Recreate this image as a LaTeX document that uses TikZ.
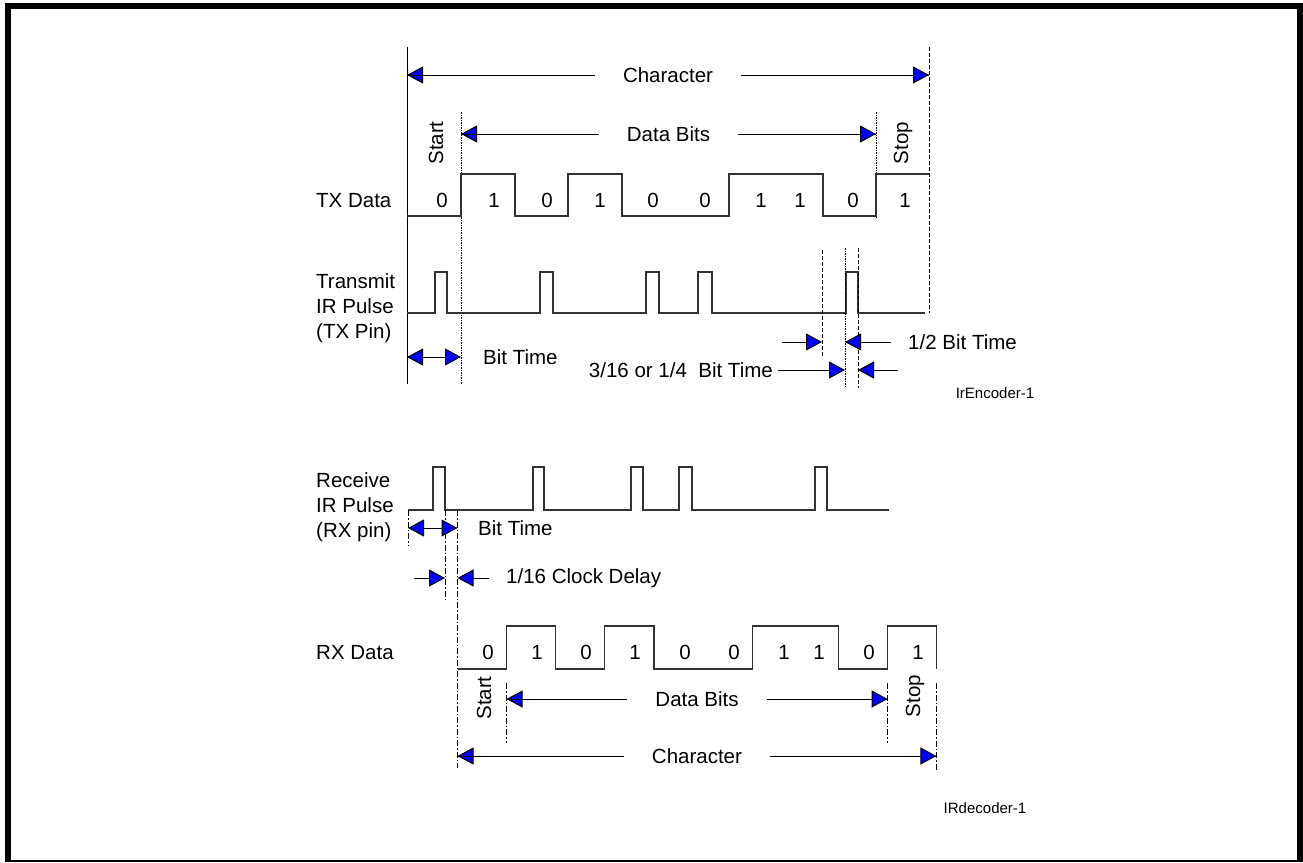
\documentclass[tikz,border=0pt]{standalone}
\usepackage{fontspec}
\setmainfont{Liberation Sans}
\usetikzlibrary{arrows.meta}

\begin{document}
\begin{tikzpicture}[x=1pt,y=-1pt,
  wave/.style={line width=1.3pt,draw=black!80},
  tip/.tip={Triangle[length=16pt,width=17pt,fill=blue]},
  dim/.style={line width=1pt,-tip},
  dimboth/.style={line width=1pt,tip-tip},
  dotline/.style={line width=1pt,dash pattern=on 1.5pt off 1pt},
  dashline/.style={line width=1pt,dash pattern=on 4pt off 2pt},
  dashdot/.style={line width=1pt,dash pattern=on 6pt off 2pt on 1.5pt off 2pt},
  txt/.style={font=\fontsize{20.5}{25}\selectfont,inner sep=0pt},
  gaplabel/.style={txt,fill=white,inner xsep=28pt,inner ysep=3pt},
  tag/.style={font=\fontsize{15}{18}\selectfont,inner sep=0pt}]

 \useasboundingbox (0,0) rectangle (1303,862);
 % frame
 \fill (5,3) rectangle (1303,9);
 \fill (5,3) rectangle (11,862);
 \fill (1297,3) rectangle (1303,862);
 \fill (5,859.5) rectangle (1303,861.5);

 % ---- encoder ----
 \coordinate (t0) at (407,47);   \coordinate (t0b) at (407,384);
 \coordinate (tS) at (461,112);  \coordinate (tSb) at (461,384);
 \coordinate (tD) at (876,112);  \coordinate (tDb) at (876,218);
 \coordinate (tE) at (929,47);   \coordinate (tEb) at (929,313);
 \coordinate (chL) at (407,75);  \coordinate (chR) at (929,75);
 \coordinate (dbL) at (461,134); \coordinate (dbR) at (876,134);

 \draw[line width=1pt] (t0) -- (t0b);
 \draw[dotline] (tS) -- (tSb);
 \draw[dotline] (tD) -- (tDb);
 \draw[dashline] (tE) -- (tEb);

 \draw[dim] (chR) -- (chL);
 \draw[dim] (chL) -- node[gaplabel] (chT) {Character} (chR);
 \draw[dim] (dbR) -- (dbL);
 \draw[dim] (dbL) -- node[gaplabel] (dbT) {Data Bits} (dbR);

 \node[txt,rotate=90] (start) at (436,143) {Start};
 \node[txt,rotate=90] (stop) at (903,143) {Stop};

 \node[txt,anchor=west] (txdata) at (316,201) {TX Data};
 \draw[wave] (407,216) -- (461,216) -- (461,174) -- (515,174) -- (515,216)
   -- (568,216) -- (568,174) -- (622,174) -- (622,216) -- (729,216)
   -- (729,174) -- (823,174) -- (823,216) -- (876,216) -- (876,174) -- (929,174);
 \foreach \x/\b [count=\i] in {442/0,494/1,547/0,600/1,653/0,705/0,761/1,800/1,853/0,905/1}
   \node[txt] (tx\i) at (\x,200) {\b};

 \node[txt,anchor=west,align=left] (txpulse) at (316,308) {Transmit\\IR Pulse\\(TX Pin)};
 \draw[wave] (407,313) -- (435,313) -- (435,272) -- (447,272) -- (447,313)
   -- (540,313) -- (540,272) -- (553,272) -- (553,313)
   -- (646,313) -- (646,272) -- (659,272) -- (659,313)
   -- (698,313) -- (698,272) -- (712,272) -- (712,313)
   -- (846,313) -- (846,272) -- (858,272) -- (858,313) -- (925,313);

 \coordinate (p1) at (822,250); \coordinate (p1b) at (822,356);
 \coordinate (p2) at (845,248); \coordinate (p2b) at (845,388);
 \coordinate (p3) at (858,248); \coordinate (p3b) at (858,388);
 \draw[dashline] (p1) -- (p1b);
 \draw[dotline] (p2) -- (p2b);
 \draw[dashline] (p3) -- (p3b);

 \coordinate (btL) at (407,357); \coordinate (btR) at (461,357);
 \draw[dimboth] (btL) -- (btR);
 \node[txt,anchor=west] (bittime) at (483,357) {Bit Time};

 \coordinate (hA) at (782,342); \coordinate (hB) at (822,342);
 \coordinate (hC) at (891,342); \coordinate (hD) at (845,342);
 \draw[dim] (hA) -- (hB);
 \draw[dim] (hC) -- (hD);
 \node[txt,anchor=west] (half) at (908,342) {1/2 Bit Time};

 \node[txt,anchor=east] (frac) at (773,370) {3/16 or 1/4\ \ Bit Time};
 \coordinate (qB) at (845,370);
 \coordinate (qC) at (898,370); \coordinate (qD) at (858,370);
 \draw[dim] ([xshift=5pt]frac.east) -- (qB);
 \draw[dim] (qC) -- (qD);

 \node[tag] (enc) at (995,393) {IrEncoder-1};

 % ---- decoder ----
 \node[txt,anchor=west,align=left] (rxpulse) at (316,507) {Receive\\IR Pulse\\(RX pin)};
 \draw[wave] (408,510) -- (433,510) -- (433,467) -- (445,467) -- (445,510)
   -- (533,510) -- (533,467) -- (544,467) -- (544,510)
   -- (631,510) -- (631,467) -- (643,467) -- (643,510)
   -- (679,510) -- (679,467) -- (692,467) -- (692,510)
   -- (815,510) -- (815,467) -- (827,467) -- (827,510) -- (889,510);

 \coordinate (r0) at (408,510);   \coordinate (r0b) at (408,545);
 \coordinate (r1) at (445,510);   \coordinate (r1b) at (445,600);
 \coordinate (r2) at (457.5,510); \coordinate (r2b) at (457.5,768);
 \draw[dashdot] (r0) -- (r0b);
 \draw[dashdot] (r1) -- (r1b);
 \draw[dashdot] (r2) -- (r2b);

 \coordinate (rbL) at (408,528); \coordinate (rbR) at (457.5,528);
 \draw[dimboth] (rbL) -- (rbR);
 \node[txt,anchor=west] (rxbit) at (478,528) {Bit Time};

 \coordinate (cA) at (414,578); \coordinate (cB) at (445,578);
 \coordinate (cC) at (489,578); \coordinate (cD) at (457.5,578);
 \draw[dim] (cA) -- (cB);
 \draw[dim] (cC) -- (cD);
 \node[txt,anchor=west] (delay) at (506,578) {1/16 Clock Delay};

 \node[txt,anchor=west] (rxdata) at (316,653) {RX Data};
 \draw[wave] (457.5,669) -- (506.5,669) -- (506.5,626) -- (555.7,626) -- (555.7,669)
   -- (604.6,669) -- (604.6,626) -- (654,626) -- (654,669) -- (752.6,669)
   -- (752.6,626) -- (838.8,626) -- (838.8,669) -- (887.6,669) -- (887.6,626)
   -- (936.4,626) -- (936.4,669);
 \foreach \x/\b [count=\i] in {488/0,537/1,586/0,635/1,685/0,734/0,784/1,819/1,869/0,918/1}
   \node[txt] (rx\i) at (\x,652) {\b};

 \coordinate (s1) at (506.5,683); \coordinate (s1b) at (506.5,743);
 \coordinate (s2) at (887.6,683); \coordinate (s2b) at (887.6,743);
 \coordinate (s3) at (936.4,683); \coordinate (s3b) at (936.4,770);
 \draw[dashdot] (s1) -- (s1b);
 \draw[dashdot] (s2) -- (s2b);
 \draw[dashdot] (s3) -- (s3b);

 \node[txt,rotate=90] (rxstart) at (484,698) {Start};
 \node[txt,rotate=90] (rxstop) at (915,696) {Stop};

 \coordinate (rdL) at (506.5,699); \coordinate (rdR) at (887.6,699);
 \draw[dim] (rdR) -- (rdL);
 \draw[dim] (rdL) -- node[gaplabel] (rdT) {Data Bits} (rdR);
 \coordinate (rcL) at (457.5,756); \coordinate (rcR) at (936.4,756);
 \draw[dim] (rcR) -- (rcL);
 \draw[dim] (rcL) -- node[gaplabel] (rcT) {Character} (rcR);

 \node[tag] (dec) at (985,808) {IRdecoder-1};
\end{tikzpicture}
\end{document}
